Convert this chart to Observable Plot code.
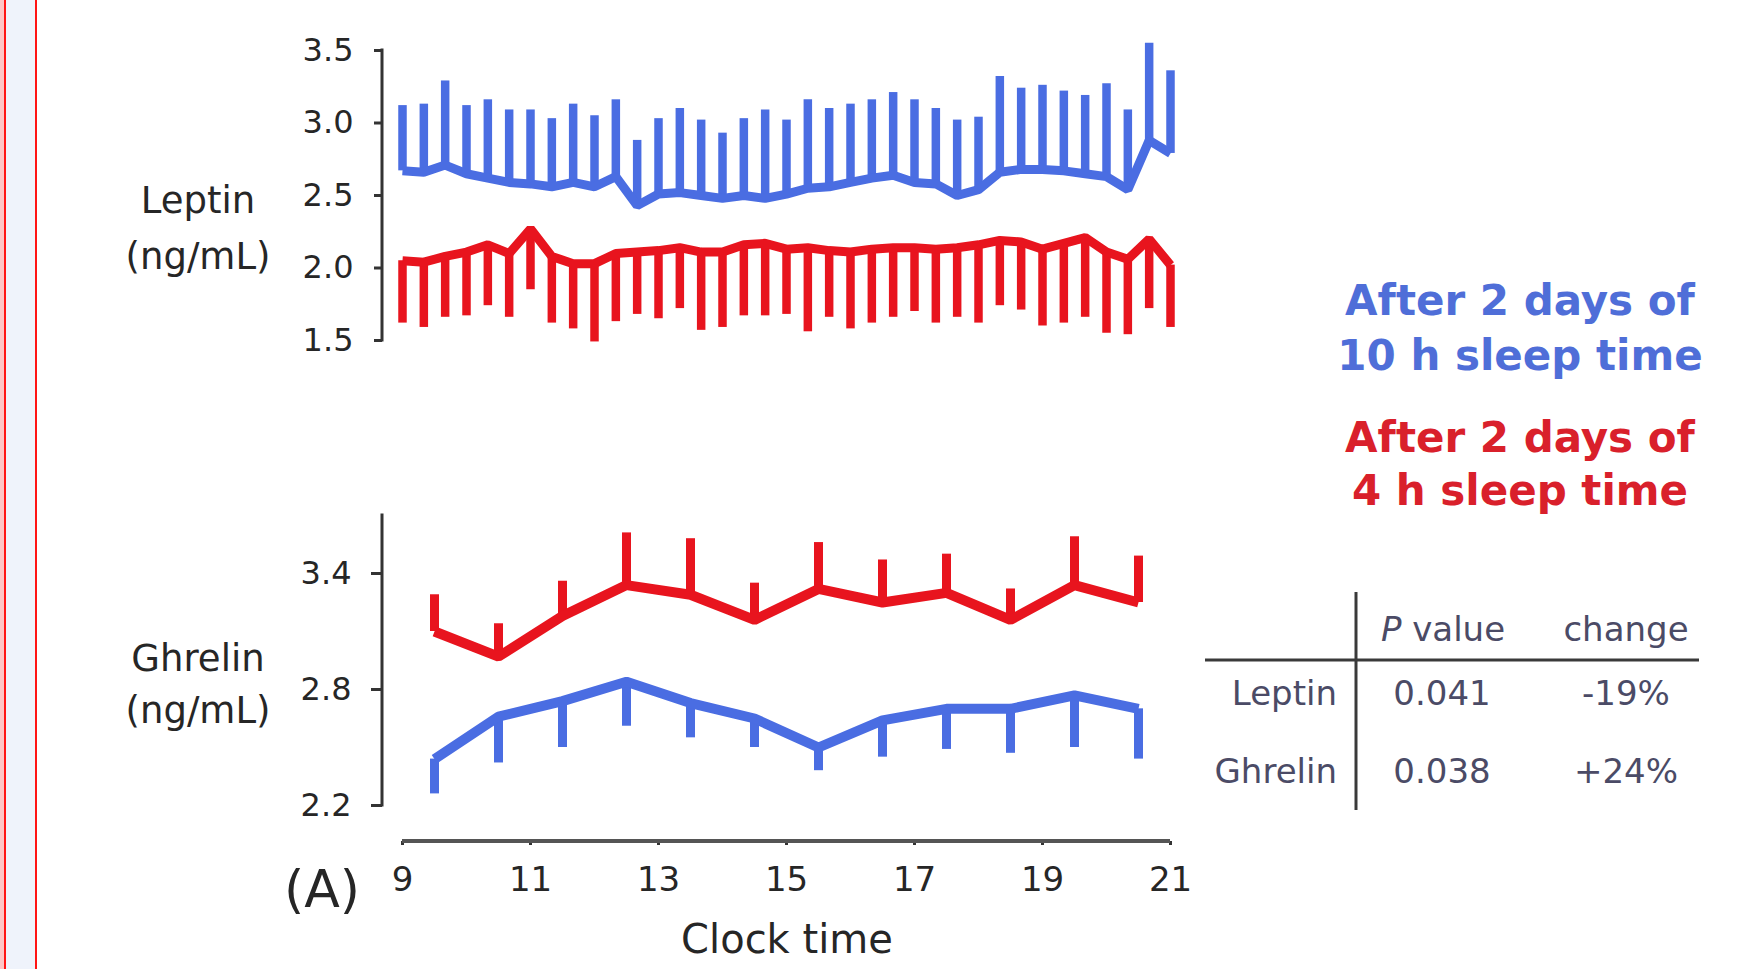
<!DOCTYPE html>
<html><head><meta charset="utf-8">
<script src="https://cdn.jsdelivr.net/npm/d3@7"></script>
<script src="https://cdn.jsdelivr.net/npm/@observablehq/plot@0.6"></script>
<style>
html,body{margin:0;padding:0;background:#fff;}
#wrap{position:relative;width:1752px;height:969px;overflow:hidden;background:#fff;font-family:"DejaVu Sans",sans-serif;}
.abs{position:absolute;}
</style></head><body><div id="wrap"></div>
<script>
// ---------- data ----------
const leptinTimes = ["9:00","9:20","9:40","10:00","10:20","10:40","11:00","11:20","11:40","12:00","12:20","12:40","13:00","13:20","13:40","14:00","14:20","14:40","15:00","15:20","15:40","16:00","16:20","16:40","17:00","17:20","17:40","18:00","18:20","18:40","19:00","19:20","19:40","20:00","20:20","20:40","21:00"];
const leptin10hMean  = [2.67,2.66,2.71,2.65,2.62,2.59,2.58,2.56,2.59,2.56,2.63,2.43,2.51,2.52,2.50,2.48,2.50,2.48,2.51,2.55,2.56,2.59,2.62,2.64,2.59,2.58,2.50,2.54,2.66,2.68,2.68,2.67,2.65,2.63,2.54,2.88,2.79];
const leptin10hUpper = [3.12,3.13,3.29,3.12,3.16,3.09,3.09,3.03,3.13,3.05,3.16,2.88,3.03,3.10,3.02,2.93,3.03,3.09,3.02,3.16,3.10,3.13,3.16,3.21,3.16,3.10,3.02,3.04,3.32,3.24,3.26,3.22,3.19,3.27,3.09,3.55,3.36];
const leptin4hMean   = [2.05,2.04,2.08,2.11,2.16,2.10,2.27,2.08,2.03,2.03,2.10,2.11,2.12,2.14,2.11,2.11,2.16,2.17,2.13,2.14,2.12,2.11,2.13,2.14,2.14,2.13,2.14,2.16,2.19,2.18,2.13,2.17,2.21,2.11,2.06,2.20,2.02];
const leptin4hLower  = [1.62,1.59,1.66,1.67,1.74,1.66,1.85,1.62,1.58,1.49,1.63,1.68,1.65,1.72,1.57,1.59,1.67,1.67,1.68,1.56,1.66,1.58,1.62,1.66,1.70,1.62,1.66,1.62,1.74,1.71,1.60,1.62,1.66,1.55,1.54,1.72,1.59];

const ghrelinTimes = ["9:30","10:30","11:30","12:30","13:30","14:30","15:30","16:30","17:30","18:30","19:30","20:30"];
const ghrelin4hMean   = [3.10,2.97,3.18,3.34,3.29,3.16,3.32,3.25,3.30,3.16,3.34,3.25];
const ghrelin4hUpper  = [3.29,3.14,3.36,3.61,3.58,3.35,3.56,3.47,3.50,3.32,3.59,3.49];
const ghrelin10hMean  = [2.44,2.66,2.74,2.84,2.73,2.65,2.50,2.64,2.70,2.70,2.77,2.70];
const ghrelin10hLower = [2.26,2.42,2.50,2.61,2.55,2.50,2.38,2.45,2.49,2.47,2.50,2.44];

const leptinTicks  = [1.5, 2.0, 2.5, 3.0, 3.5];
const ghrelinTicks = [2.2, 2.8, 3.4];
const clockTicks   = [9, 11, 13, 15, 17, 19, 21];

const legendLines = [["After 2 days of", "10 h sleep time"], ["After 2 days of", "4 h sleep time"]];
const tableRows    = ["Leptin", "Ghrelin"];
const tablePValues = ["0.041", "0.038"];
const tableChanges = ["-19%", "+24%"];

// ---------- helpers ----------
const BLUE = "#4a6de2", RED = "#e8141e", AXIS = "#333", TXT = "#262626";
const FONT = "DejaVu Sans";
const toHour = s => { const [h, m] = s.split(":").map(Number); return h + m / 60; };

const lep10 = leptinTimes.map((t, i) => ({t: toHour(t), mean: leptin10hMean[i], err: leptin10hUpper[i]}));
const lep4  = leptinTimes.map((t, i) => ({t: toHour(t), mean: leptin4hMean[i],  err: leptin4hLower[i]}));
const ghr4  = ghrelinTimes.map((t, i) => ({t: toHour(t), mean: ghrelin4hMean[i],  err: ghrelin4hUpper[i]}));
const ghr10 = ghrelinTimes.map((t, i) => ({t: toHour(t), mean: ghrelin10hMean[i], err: ghrelin10hLower[i]}));

const wrap = d3.select("#wrap");

// slide frame decoration at left edge
wrap.append("div").attr("class","abs").style("left","0px").style("top","0px").style("width","4px").style("height","969px").style("background","#ffc6c6");
wrap.append("div").attr("class","abs").style("left","4px").style("top","0px").style("width","29px").style("height","969px").style("background","#eff3fb").style("border-left","2px solid #ff1414").style("border-right","2px solid #ff1414");

const X_RANGE = [402, 1170];
const AXIS_X = 382;

function addYAxisLine(chart, ml) {
  const y = chart.scale("y");
  d3.select(chart).append("line")
    .attr("x1", ml).attr("x2", ml)
    .attr("y1", y.range[0]).attr("y2", y.range[1])
    .attr("stroke", AXIS).attr("stroke-width", 3).attr("stroke-linecap", "square");
}

function place(chart, top) {
  chart.style.position = "absolute";
  chart.style.left = "0px";
  chart.style.top = top + "px";
  document.getElementById("wrap").appendChild(chart);
}

function panel(data10, data4, opts) {
  return Plot.plot({
    width: 1200, height: opts.height,
    marginTop: opts.mt, marginBottom: opts.mb, marginLeft: AXIS_X, marginRight: 30,
    x: {domain: [9, 21], range: X_RANGE, axis: null},
    y: {domain: opts.domain, axis: null},
    style: {fontFamily: FONT, fontSize: "32px", color: TXT, background: "transparent", overflow: "visible"},
    marks: [
      Plot.axisY({ticks: opts.ticks, tickSize: opts.tickSize, tickPadding: opts.tickPad, tickFormat: d3.format(".1f"),
                  strokeWidth: 3, stroke: AXIS, fontSize: 32, label: null}),
      Plot.ruleX(data10, {x: "t", y1: "mean", y2: "err", stroke: BLUE, strokeWidth: opts.barW}),
      Plot.line(data10,  {x: "t", y: "mean", stroke: BLUE, strokeWidth: opts.lineW, strokeLinejoin: "miter", strokeLinecap: "butt"}),
      Plot.ruleX(data4,  {x: "t", y1: "mean", y2: "err", stroke: RED, strokeWidth: opts.barW}),
      Plot.line(data4,   {x: "t", y: "mean", stroke: RED, strokeWidth: opts.lineW, strokeLinejoin: "miter", strokeLinecap: "butt"})
    ]
  });
}

// Leptin panel: frame 50..340
const leptinChart = panel(lep10, lep4, {height: 360, mt: 50, mb: 20, domain: [1.5, 3.5], ticks: leptinTicks, tickSize: 8, tickPad: 21, barW: 8.5, lineW: 9});
addYAxisLine(leptinChart, AXIS_X);
place(leptinChart, 0);

// Ghrelin panel: frame 515..805
const ghrelinChart = panel(ghr10, ghr4, {height: 360, mt: 55, mb: 15, domain: [2.2, 3.7], ticks: ghrelinTicks, tickSize: 11, tickPad: 20, barW: 9, lineW: 10});
addYAxisLine(ghrelinChart, AXIS_X);
place(ghrelinChart, 460);

// Clock-time axis: line at 841
const xChart = Plot.plot({
  width: 1200, height: 149,
  marginTop: 0, marginBottom: 128, marginLeft: X_RANGE[0], marginRight: 1200 - X_RANGE[1],
  x: {domain: [9, 21], range: X_RANGE},
  y: {axis: null},
  style: {fontFamily: FONT, fontSize: "34px", color: TXT, background: "transparent", overflow: "visible"},
  marks: [
    Plot.axisX({ticks: clockTicks, tickSize: 4, tickPadding: 21, tickFormat: d3.format("d"), strokeWidth: 3, stroke: AXIS, fontSize: 34, label: null})
  ]
});
{
  const x = xChart.scale("x");
  d3.select(xChart).append("line")
    .attr("x1", x.apply(9)).attr("x2", x.apply(21)).attr("y1", 21).attr("y2", 21)
    .attr("stroke", "#555").attr("stroke-width", 4);
}
place(xChart, 820);

// ---------- annotations overlay ----------
const ov = wrap.append("svg").attr("class", "abs").style("left", "0px").style("top", "0px")
  .attr("width", 1752).attr("height", 969).style("pointer-events", "none").style("font-family", FONT);

function txt(x, y, s, size, anchor, fill, weight) {
  return ov.append("text").attr("x", x).attr("y", y).attr("text-anchor", anchor || "middle")
    .attr("font-size", size).attr("fill", fill || TXT).attr("font-weight", weight || "normal").text(s);
}

txt(198, 213, "Leptin", 37);
txt(198, 269, "(ng/mL)", 37);
txt(198, 671, "Ghrelin", 37);
txt(198, 723, "(ng/mL)", 37);
txt(322, 907, "(A)", 52);
txt(787, 953, "Clock time", 40);

// legend
const legendColors = ["#4f6ed8", "#d9202b"];
const legendBase = [[315, 370], [452, 505]];
legendLines.forEach((lines, g) => lines.forEach((s, k) => txt(1520, legendBase[g][k], s, 42, "middle", legendColors[g], "bold")));

// table
const TBL = "#4b4b66";
ov.append("line").attr("x1", 1356).attr("x2", 1356).attr("y1", 592).attr("y2", 810).attr("stroke", "#3a3a3a").attr("stroke-width", 3);
ov.append("line").attr("x1", 1205).attr("x2", 1699).attr("y1", 660).attr("y2", 660).attr("stroke", "#3a3a3a").attr("stroke-width", 3);
{
  const h = ov.append("text").attr("x", 1443).attr("y", 641).attr("text-anchor", "middle").attr("font-size", 34).attr("fill", TBL);
  h.append("tspan").attr("font-style", "italic").text("P");
  h.append("tspan").text(" value");
}
txt(1626, 641, "change", 34, "middle", TBL);
const rowBase = [705, 783];
tableRows.forEach((r, i) => {
  txt(1337, rowBase[i], r, 34, "end", TBL);
  txt(1442, rowBase[i], tablePValues[i], 34, "middle", TBL);
  txt(1626, rowBase[i], tableChanges[i], 34, "middle", TBL);
});
</script></body></html>
